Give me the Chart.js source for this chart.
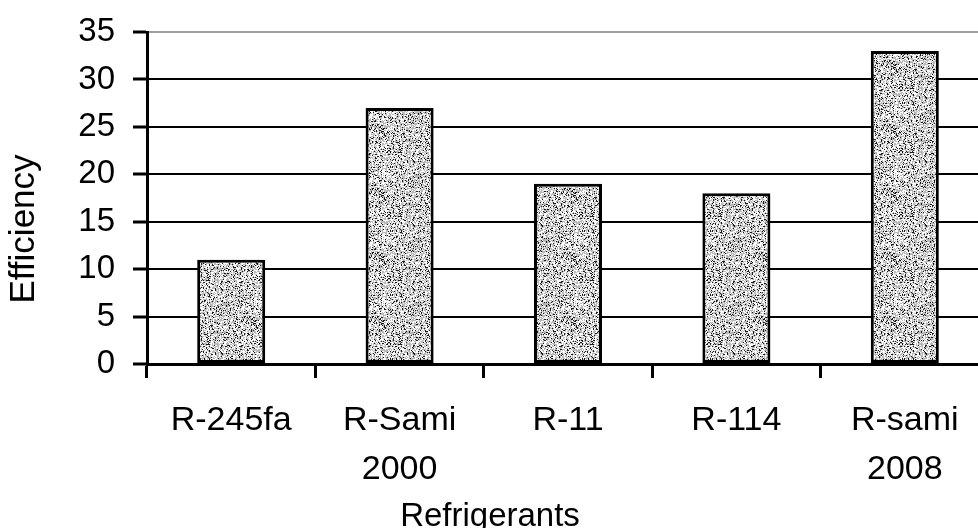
<!DOCTYPE html>
<html>
<head>
<meta charset="utf-8">
<script src="https://cdn.jsdelivr.net/npm/chart.js@4.4.1/dist/chart.umd.min.js"></script>
<style>
  html, body { margin: 0; padding: 0; background: #fff; overflow: hidden; }
  #wrap { position: relative; width: 990px; height: 528px; }
</style>
</head>
<body>
<div id="wrap"><canvas id="chart"></canvas></div>
<script>
// Refrigerant efficiency comparison
const categories = [['R-245fa'], ['R-Sami', '2000'], ['R-11'], ['R-114'], ['R-sami', '2008']];
const efficiency = [11, 27, 19, 18, 33];
const yMin = 0;
const yMax = 35;
const yStep = 5;
const xTitle = 'Refrigerants';
const yTitle = 'Efficiency';

const FONT = '"Liberation Sans", Arial, Helvetica, sans-serif';

// Stippled grey fill for the bars (deterministic speckle)
function makeStipple() {
  const size = 64;
  const c = document.createElement('canvas');
  c.width = size; c.height = size;
  const g = c.getContext('2d');
  const img = g.createImageData(size, size);
  for (let y = 0; y < size; y++) {
    for (let x = 0; x < size; x++) {
      const h = Math.abs(Math.sin(x * 12.9898 + y * 78.233) * 43758.5453) % 1;
      let v;
      if (h < 0.14) v = 25;
      else if (h < 0.56) v = 252;
      else v = 185;
      const i = (y * size + x) * 4;
      img.data[i] = img.data[i + 1] = img.data[i + 2] = v;
      img.data[i + 3] = 255;
    }
  }
  g.putImageData(img, 0, 0);
  return g.createPattern(c, 'repeat');
}

// Axis titles drawn at their own positions
const axisTitles = {
  id: 'axisTitles',
  afterDraw(chart) {
    const ctx = chart.ctx;
    ctx.save();
    ctx.fillStyle = '#000';
    ctx.font = '33px ' + FONT;
    ctx.textAlign = 'center';
    ctx.textBaseline = 'alphabetic';
    ctx.fillText(xTitle, 490, 526);
    ctx.translate(34, 229);
    ctx.rotate(-Math.PI / 2);
    ctx.font = '35px ' + FONT;
    ctx.fillText(yTitle, 0, 0);
    ctx.restore();
  }
};

new Chart(document.getElementById('chart'), {
  type: 'bar',
  data: {
    labels: categories,
    datasets: [{
      data: efficiency,
      backgroundColor: makeStipple(),
      borderColor: '#000',
      borderWidth: 3,
      borderSkipped: false,
      barPercentage: 0.404,
      categoryPercentage: 1.0
    }]
  },
  options: {
    responsive: true,
    maintainAspectRatio: false,
    animation: false,
    layout: { padding: { top: 32, right: 1, bottom: 0, left: 0 } },
    plugins: { legend: { display: false }, tooltip: { enabled: false }, title: { display: false } },
    scales: {
      x: {
        offset: true,
        grid: {
          display: true,
          drawOnChartArea: false,
          drawTicks: true,
          tickLength: 14,
          tickColor: '#000',
          tickWidth: 3,
          offset: true
        },
        border: { display: true, color: '#000', width: 3 },
        ticks: {
          color: '#000',
          font: { family: FONT, size: 34, lineHeight: 1.45 },
          padding: 18,
          maxRotation: 0,
          autoSkip: false
        },
        afterFit(scale) { scale.height = 164; }
      },
      y: {
        min: yMin,
        max: yMax,
        ticks: {
          stepSize: yStep,
          color: '#000',
          font: { family: FONT, size: 33 },
          padding: 18
        },
        grid: {
          color: (ctx) => (ctx.tick && ctx.tick.value === yMax) ? '#a0a0a0' : '#000',
          lineWidth: 2,
          drawTicks: true,
          tickLength: 14,
          tickColor: '#000',
          tickWidth: 3
        },
        border: { display: true, color: '#000', width: 3 },
        afterFit(scale) {
          scale.width = 147;
          scale.paddingTop = 0;
          scale.paddingBottom = 0;
        }
      }
    }
  },
  plugins: [axisTitles]
});
</script>
</body>
</html>
